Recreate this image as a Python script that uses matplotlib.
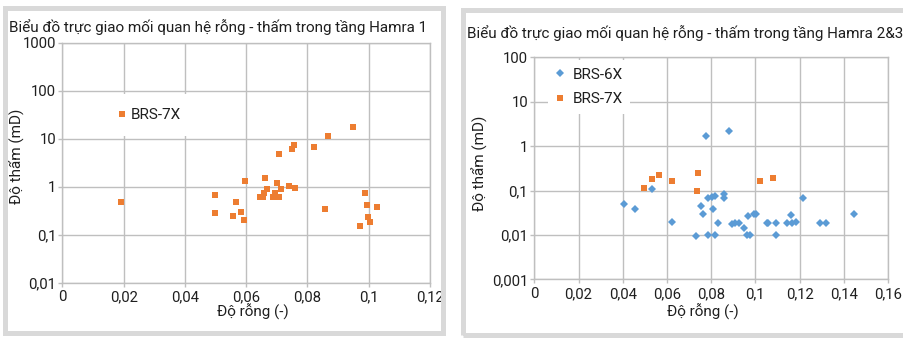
import matplotlib.pyplot as plt
from matplotlib.patches import Rectangle

plt.rcParams['font.family'] = ['Roboto', 'DejaVu Sans']

# Hamra 1 - BRS-7X
poro_h1 = [0.0191, 0.0498, 0.0499, 0.0568, 0.0558, 0.0583, 0.0593, 0.0596, 0.0661, 0.0645,
           0.0656, 0.0659, 0.0668, 0.0686, 0.0694, 0.0700, 0.0706, 0.0708, 0.0713, 0.0741,
           0.0759, 0.0750, 0.0755, 0.0822, 0.0868, 0.0948, 0.0857, 0.0988, 0.0994, 0.1027,
           0.0999, 0.1004, 0.0973]
perm_h1 = [0.49, 0.67, 0.28, 0.49, 0.24, 0.30, 0.205, 1.3, 1.54, 0.61,
           0.61, 0.75, 0.91, 0.61, 0.75, 1.21, 4.87, 0.61, 0.91, 1.05,
           0.95, 6.0, 7.3, 6.8, 11.4, 17.3, 0.35, 0.74, 0.42, 0.38,
           0.23, 0.18, 0.154]

# Hamra 2&3 - BRS-6X
poro_6x = [0.0406, 0.0455, 0.0531, 0.0623, 0.0730, 0.0778, 0.0754, 0.0765, 0.0786, 0.0786,
           0.0805, 0.0817, 0.0808, 0.0819, 0.0832, 0.0858, 0.0858, 0.0879, 0.0896, 0.0906,
           0.0925, 0.0947, 0.0968, 0.0962, 0.0974, 0.0995, 0.1002, 0.1054, 0.1057, 0.1093,
           0.1093, 0.1141, 0.1159, 0.1167, 0.1185, 0.1214, 0.1293, 0.1318, 0.1445]
perm_6x = [0.0497, 0.039, 0.106, 0.020, 0.0096, 1.71, 0.045, 0.029, 0.069, 0.0098,
           0.070, 0.075, 0.039, 0.0098, 0.019, 0.082, 0.069, 2.22, 0.018, 0.019,
           0.019, 0.0143, 0.027, 0.0098, 0.0098, 0.029, 0.030, 0.019, 0.019, 0.019,
           0.0098, 0.019, 0.028, 0.019, 0.020, 0.068, 0.019, 0.019, 0.0296]

# Hamra 2&3 - BRS-7X
poro_7x = [0.0498, 0.0531, 0.0562, 0.0623, 0.0740, 0.0738, 0.1022, 0.1079]
perm_7x = [0.112, 0.18, 0.22, 0.16, 0.25, 0.099, 0.16, 0.19]

xt1 = [0, 0.02, 0.04, 0.06, 0.08, 0.1, 0.12]
xl1 = ['0', '0,02', '0,04', '0,06', '0,08', '0,1', '0,12']
yt1 = [0.01, 0.1, 1, 10, 100, 1000]
yl1 = ['0,01', '0,1', '1', '10', '100', '1000']
xt2 = [0, 0.02, 0.04, 0.06, 0.08, 0.1, 0.12, 0.14, 0.16]
xl2 = ['0', '0,02', '0,04', '0,06', '0,08', '0,1', '0,12', '0,14', '0,16']
yt2 = [0.001, 0.01, 0.1, 1, 10, 100]
yl2 = ['0,001', '0,01', '0,1', '1', '10', '100']

title1 = 'Biểu đồ trực giao mối quan hệ rỗng - thấm trong tầng Hamra 1'
title2 = 'Biểu đồ trực giao mối quan hệ rỗng - thấm trong tầng Hamra 2&3'

ORANGE = '#ED7D31'
BLUE = '#5B9BD5'
GRID = '#BFBFBF'
TXT = '#1f1f1f'

W, H = 904, 338
fig = plt.figure(figsize=(W / 100, H / 100), dpi=100)


def fx(p):
    return p / W


def fy(p):
    return 1 - p / H


# panel frames
fig.patches.append(Rectangle((fx(5), fy(333)), fx(443 - 5), (333 - 7.5) / H,
                             transform=fig.transFigure, fill=False,
                             edgecolor='#D9D9D9', linewidth=3.6))
fig.patches.append(Rectangle((fx(463.5), fy(335)), fx(915 - 463.5), (335 - 10) / H,
                             transform=fig.transFigure, fill=False,
                             edgecolor='#D9D9D9', linewidth=3.6))

ax1 = fig.add_axes([fx(62.5), fy(282.7), fx(430 - 62.5), (282.7 - 42.7) / H])
ax2 = fig.add_axes([fx(534.3), fy(279.3), fx(888 - 534.3), (279.3 - 57.3) / H])


def style(ax, xt, xl, yt, yl):
    ax.set_yscale('log')
    ax.set_xlim(xt[0], xt[-1])
    ax.set_ylim(yt[0], yt[-1])
    ax.set_xticks(xt, xl)
    ax.set_yticks(yt, yl)
    ax.minorticks_off()
    ax.grid(True, color=GRID, linewidth=1)
    ax.set_axisbelow(True)
    for s in ax.spines.values():
        s.set_color(GRID)
        s.set_linewidth(1)
    ax.tick_params(axis='both', colors=GRID, labelcolor=TXT, labelsize=10.7,
                   length=3, width=1)
    ax.tick_params(axis='y', pad=1.5)
    ax.tick_params(axis='x', pad=2.5)


style(ax1, xt1, xl1, yt1, yl1)
style(ax2, xt2, xl2, yt2, yl2)

ax1.plot(poro_h1, perm_h1, 's', color=ORANGE, markersize=4.9, markeredgewidth=0,
         label='BRS-7X', clip_on=False)
ax2.plot(poro_6x, perm_6x, 'D', color=BLUE, markersize=3.6, markeredgewidth=0,
         label='BRS-6X', clip_on=False)
ax2.plot(poro_7x, perm_7x, 's', color=ORANGE, markersize=4.4, markeredgewidth=0,
         label='BRS-7X', clip_on=False)

for ax in (ax1, ax2):
    ax.set_xlabel('Độ rỗng (-)', fontsize=11, color=TXT)
    ax.set_ylabel('Độ thẩm (mD)', fontsize=11, color=TXT)
    ax.xaxis.label.set_verticalalignment('center')
    ax.yaxis.label.set_verticalalignment('center')

ax1.xaxis.set_label_coords(0.518, -0.122)
ax1.yaxis.set_label_coords(-0.124, 0.528)
ax2.xaxis.set_label_coords(0.4755, -0.147)
ax2.yaxis.set_label_coords(-0.1535, 0.524)

leg1 = ax1.legend(loc='center left', bbox_to_anchor=(fx(104), fy(115)),
                  bbox_transform=fig.transFigure, frameon=True, fontsize=11,
                  handlelength=0.6, handletextpad=0.25, borderpad=0.9,
                  borderaxespad=0, labelcolor=TXT)
leg2 = ax2.legend(loc='center left', bbox_to_anchor=(fx(548), fy(87)),
                  bbox_transform=fig.transFigure, frameon=True, fontsize=11,
                  handlelength=0.6, handletextpad=0.5, borderpad=0.5,
                  labelspacing=0.7, borderaxespad=0, labelcolor=TXT)
for leg in (leg1, leg2):
    fr = leg.get_frame()
    fr.set_facecolor('white')
    fr.set_edgecolor('none')
    fr.set_alpha(1)
    fr.set_boxstyle('square', pad=0)

fig.text(fx(9), fy(26.7), title1, ha='left', va='center', fontsize=11, color=TXT)
fig.text(fx(466.7), fy(32.7), title2, ha='left', va='center', fontsize=11, color=TXT)

fig.savefig('out.png', dpi=100, facecolor='white')
